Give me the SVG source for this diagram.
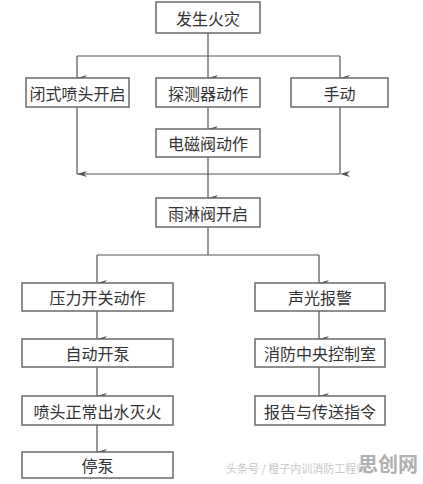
<svg xmlns="http://www.w3.org/2000/svg" width="423" height="484" viewBox="0 0 423 484">
<defs>
<style>
.box{fill:#fff;stroke:#6a6a6a;stroke-width:1.5}
.t{font-family:"Noto Sans CJK SC","Noto Sans CJK TC",sans-serif;font-size:16px;fill:#333;text-anchor:middle;dominant-baseline:central}
.c{fill:none;stroke:#555;stroke-width:1.2}
.wm{font-family:"Noto Sans CJK SC",sans-serif;fill:#c8c8c8}
</style>
<marker id="ah" viewBox="0 0 6 10" refX="3" refY="10" markerWidth="6" markerHeight="10" markerUnits="userSpaceOnUse" orient="auto-start-reverse">
<path d="M0,0 L3,10 L6,0 L3,3 Z" fill="#555"/>
</marker>
</defs>
<rect width="423" height="484" fill="#fff"/>
<g id="connectors">
<path class="c" d="M208,33 V56"/>
<path class="c" d="M77,56 H340"/>
<path class="c" d="M77,56 V78" marker-end="url(#ah)"/>
<path class="c" d="M208,56 V78" marker-end="url(#ah)"/>
<path class="c" d="M340,56 V78" marker-end="url(#ah)"/>
<path class="c" d="M208,107 V129" marker-end="url(#ah)"/>
<path class="c" d="M77,107 V174" marker-end="url(#ah)"/>
<path class="c" d="M340,107 V174" marker-end="url(#ah)"/>
<path class="c" d="M77,174 H340"/>
<path class="c" d="M208,157 V198" marker-end="url(#ah)"/>
<path class="c" d="M208,227 V255"/>
<path class="c" d="M97,255 H319"/>
<path class="c" d="M97,255 V283" marker-end="url(#ah)"/>
<path class="c" d="M319,255 V283" marker-end="url(#ah)"/>
<path class="c" d="M97,311 V339" marker-end="url(#ah)"/>
<path class="c" d="M97,367 V396" marker-end="url(#ah)"/>
<path class="c" d="M97,425 V452" marker-end="url(#ah)"/>
<path class="c" d="M319,311 V339" marker-end="url(#ah)"/>
<path class="c" d="M319,367 V396" marker-end="url(#ah)"/>
</g>
<g id="n1"><rect class="box" x="156" y="2" width="104" height="31"/><text class="t" x="208" y="18">发生火灾</text></g>
<g id="n2"><rect class="box" x="26" y="78" width="103" height="29"/><text class="t" x="77.5" y="92.5">闭式喷头开启</text></g>
<g id="n3"><rect class="box" x="156" y="78" width="104" height="29"/><text class="t" x="208" y="92.5">探测器动作</text></g>
<g id="n4"><rect class="box" x="291" y="78" width="97" height="29"/><text class="t" x="339.5" y="92.5">手动</text></g>
<g id="n5"><rect class="box" x="156" y="129" width="104" height="28"/><text class="t" x="208" y="143">电磁阀动作</text></g>
<g id="n6"><rect class="box" x="156" y="198" width="104" height="29"/><text class="t" x="208" y="212.5">雨淋阀开启</text></g>
<g id="n7"><rect class="box" x="22" y="283" width="151" height="28"/><text class="t" x="97.5" y="297">压力开关动作</text></g>
<g id="n8"><rect class="box" x="255" y="283" width="130" height="28"/><text class="t" x="320" y="297">声光报警</text></g>
<g id="n9"><rect class="box" x="22" y="339" width="151" height="28"/><text class="t" x="97.5" y="353">自动开泵</text></g>
<g id="n10"><rect class="box" x="255" y="339" width="130" height="28"/><text class="t" x="320" y="353">消防中央控制室</text></g>
<g id="n11"><rect class="box" x="22" y="396" width="151" height="29"/><text class="t" x="97.5" y="410.5">喷头正常出水灭火</text></g>
<g id="n12"><rect class="box" x="255" y="396" width="130" height="29"/><text class="t" x="320" y="410.5">报告与传送指令</text></g>
<g id="n13"><rect class="box" x="22" y="452" width="151" height="26"/><text class="t" x="97.5" y="465">停泵</text></g>
<g id="watermark">
<text class="wm" x="226" y="473" font-size="11">头条号 / 橙子内训消防工程师</text>
<text class="wm" x="358" y="472" font-size="20" font-weight="bold" style="fill:#b0b0b0">思创网</text>
</g>
</svg>
